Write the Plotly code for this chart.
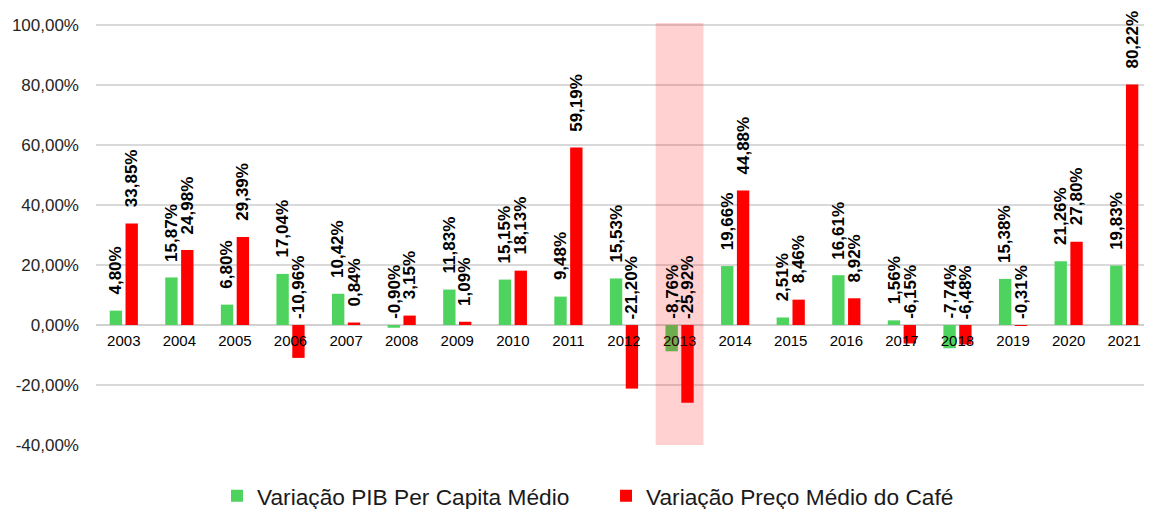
import plotly.graph_objects as go

years = [str(y) for y in range(2003, 2022)]
pib = [4.80, 15.87, 6.80, 17.04, 10.42, -0.90, 11.83, 15.15, 9.48, 15.53,
       -8.76, 19.66, 2.51, 16.61, 1.56, -7.74, 15.38, 21.26, 19.83]
cafe = [33.85, 24.98, 29.39, -10.96, 0.84, 3.15, 1.09, 18.13, 59.19, -21.20,
        -25.92, 44.88, 8.46, 8.92, -6.15, -6.48, -0.31, 27.80, 80.22]
names = ["Variação PIB Per Capita Médio", "Variação Preço Médio do Café"]
highlight_year = "2013"
y_ticks = [-40, -20, 0, 20, 40, 60, 80, 100]

GREEN = "#4ED35E"
RED = "#FF0000"
FONT = "Liberation Sans, Arial, sans-serif"

def fmt(v):
    return f"{v:.2f}".replace(".", ",") + "%"

fig = go.Figure()
fig.add_trace(go.Bar(x=years, y=pib, name=names[0], marker=dict(color=GREEN, line=dict(width=0))))
fig.add_trace(go.Bar(x=years, y=cafe, name=names[1], marker=dict(color=RED, line=dict(width=0))))

ann = []
for series, shift in ((pib, -7.9), (cafe, 7.9)):
    for i, v in enumerate(series):
        ann.append(dict(
            x=i, y=v if v > 0 else 0, xref="x", yref="y",
            text=fmt(v), showarrow=False, textangle=-90,
            xanchor="center", yanchor="bottom",
            xshift=shift, yshift=14 if v > 0 else 4,
            font=dict(family=FONT, size=17, color="#000000", weight="bold"),
        ))

idx = years.index(highlight_year)
fig.add_shape(type="rect", xref="x", yref="y",
              x0=idx - 0.43, x1=idx + 0.43, y0=-40, y1=100.7,
              fillcolor="rgba(255,0,0,0.18)", line=dict(width=0), layer="above")

fig.update_layout(
    width=1144, height=501,
    margin=dict(l=88, r=0, t=15, b=64, autoexpand=False),
    paper_bgcolor="white", plot_bgcolor="white",
    barmode="group", bargap=0.43, bargroupgap=0.22,
    annotations=ann,
    showlegend=True,
    legend=dict(orientation="h", x=0.1146, xanchor="left", y=-0.121, yanchor="middle",
                font=dict(family=FONT, size=22.7, color="#1A1A1A"),
                entrywidth=344, entrywidthmode="pixels", itemwidth=30),
    xaxis=dict(type="category", range=[-0.5, len(years) - 0.5], autorange=False,
               anchor="free", position=40 / 140.7, automargin=False,
               showline=False, ticks="", showgrid=False, ticklabelstandoff=5,
               tickfont=dict(family=FONT, size=15, color="#000000")),
    yaxis=dict(range=[-40, 100.7], autorange=False, tickvals=y_ticks, automargin=False,
               ticktext=[f"{t},00%" for t in y_ticks],
               showgrid=True, gridcolor="#D9D9D9", gridwidth=1.5,
               zeroline=True, zerolinecolor="#D0D0D0", zerolinewidth=2,
               ticks="", ticklabelstandoff=16,
               tickfont=dict(family=FONT, size=17, color="#262626")),
)
fig.write_html("out.html")
